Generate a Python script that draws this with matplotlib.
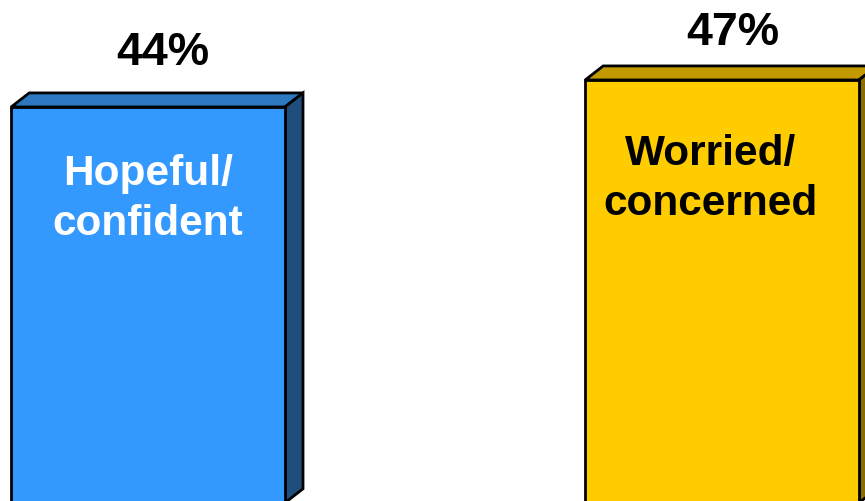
import matplotlib.pyplot as plt
from matplotlib.patches import Polygon

plt.rcParams['font.family'] = ['Liberation Sans', 'DejaVu Sans']

# Data
categories = ['Hopeful/\nconfident', 'Worried/\nconcerned']
values = [44, 47]
value_labels = ['44%', '47%']

# Style
front_colors = ['#3399FF', '#FFCC00']
top_colors = ['#2E78C2', '#C29A00']
side_colors = ['#1F4E7C', '#8A6D00']
text_colors = ['white', 'black']
value_offsets = [(4, 29.5), (1, 24.5)]
cat_offsets = [(0, -33), (-8, -38)]
width = 0.477
dx, dy = 0.0314, 1.56   # 3D depth offsets (data units)

fig = plt.figure(figsize=(8.65, 5.02), dpi=100)
ax = fig.add_axes([0, 0, 1, 1])
ax.set_xlim(-0.258, 1.249)
ax.set_ylim(0.2, 56.0)
ax.axis('off')

x = range(len(values))
bars = ax.bar(x, values, width=width, color=front_colors,
              edgecolor='black', linewidth=2, zorder=3)

for i, b in enumerate(bars):
    x0 = b.get_x()
    x1 = x0 + b.get_width()
    h = b.get_height()
    top = Polygon([(x0, h), (x0 + dx, h + dy), (x1 + dx, h + dy), (x1, h)],
                  closed=True, facecolor=top_colors[i], edgecolor='black',
                  linewidth=2, zorder=2)
    side = Polygon([(x1, 0), (x1, h), (x1 + dx, h + dy), (x1 + dx, dy)],
                   closed=True, facecolor=side_colors[i], edgecolor='black',
                   linewidth=2, zorder=2)
    ax.add_patch(top)
    ax.add_patch(side)

    # value label above the bar
    ax.annotate(value_labels[i], (x0 + width / 2 + dx / 2, h + dy),
                xytext=value_offsets[i], textcoords='offset points',
                ha='center', va='center', fontsize=33.5, fontweight='bold',
                color='black', zorder=4)

    # category label inside the bar
    ax.annotate(categories[i], (x0 + width / 2, h),
                xytext=cat_offsets[i], textcoords='offset points',
                ha='center', va='top', fontsize=30.5, fontweight='bold',
                color=text_colors[i], linespacing=1.33, zorder=4)

fig.savefig('out.png', dpi=100)
